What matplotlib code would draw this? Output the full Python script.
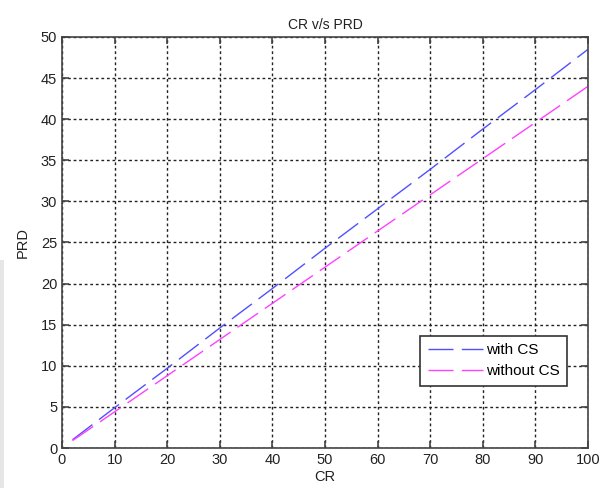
import matplotlib.pyplot as plt
from matplotlib.patches import Rectangle

plt.rcParams['font.family'] = ['Liberation Sans', 'DejaVu Sans']

cr = [2, 10, 20, 30, 40, 50, 60, 70, 80, 90, 100]
prd_with_cs = [1.0, 4.9, 9.7, 14.6, 19.4, 24.3, 29.1, 33.9, 38.8, 43.6, 48.5]
prd_without_cs = [0.9, 4.4, 8.8, 13.2, 17.6, 22.0, 26.4, 30.8, 35.2, 39.6, 44.0]

xticks = list(range(0, 101, 10))
yticks = list(range(0, 51, 5))

fig = plt.figure(figsize=(6.0, 4.88), dpi=100)
fig.patches.append(Rectangle((0, 0), 4 / 600, 228 / 488, transform=fig.transFigure,
                             facecolor='#e6e6e6', edgecolor='none'))
ax = fig.add_axes([62 / 600, 1 - 448 / 488, 526 / 600, 411 / 488])

ax.plot(cr, prd_with_cs, color='#5050ff', lw=1.0, dashes=(18, 6), label='with CS')
ax.plot(cr, prd_without_cs, color='#ff40ff', lw=1.0, dashes=(18, 6), label='without CS')

ax.set_xlim(0, 100)
ax.set_ylim(0, 50)
ax.set_xticks(xticks)
ax.set_yticks(yticks)
ax.grid(True, color='#222222', linestyle=(0, (2, 2)), linewidth=1.0)
ax.tick_params(direction='in', top=True, right=True, length=5, width=1.2,
               colors='#444444', labelcolor='#222222', labelsize=10.5)
for s in ax.spines.values():
    s.set_color('#444444')
    s.set_linewidth(1.2)

ax.set_title('CR v/s PRD', fontsize=10, color='#222222', pad=6)
ax.set_xlabel('CR', fontsize=10.5, color='#222222', labelpad=2)
ax.set_ylabel('PRD', fontsize=10.5, color='#222222', labelpad=8)

leg = ax.legend(loc='lower right', bbox_to_anchor=(0.96, 0.151), borderaxespad=0,
                fontsize=11, fancybox=False, framealpha=1, edgecolor='#333333',
                handlelength=3.6, borderpad=0.5, labelspacing=0.45, handletextpad=0.2)
leg.get_frame().set_linewidth(1.2)

fig.savefig('out.png', dpi=100)
